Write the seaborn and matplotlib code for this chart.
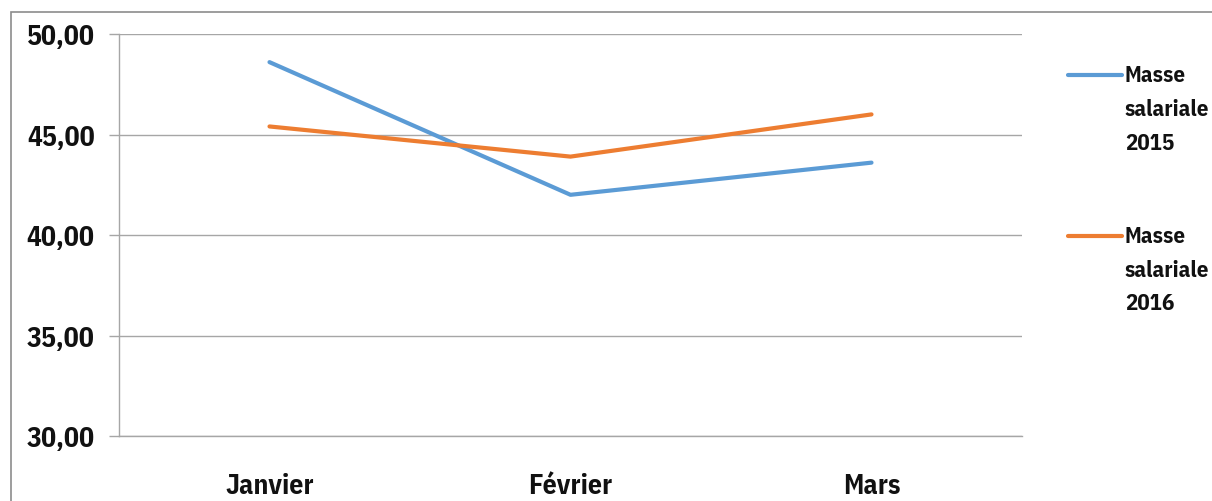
import matplotlib
matplotlib.use("Agg")
import matplotlib.pyplot as plt
from matplotlib.lines import Line2D
from matplotlib.patches import Rectangle
import seaborn as sns
import pandas as pd

months = ["Janvier", "Février", "Mars"]
masse_2015 = [48.6, 42.0, 43.6]
masse_2016 = [45.4, 43.9, 46.0]
series_labels = ["Masse\nsalariale\n2015", "Masse\nsalariale\n2016"]
y_ticks = [30, 35, 40, 45, 50]
colors = ["#5B9BD5", "#ED7D31"]

sns.set_theme(style="white")
FONT = ["IBM Plex Sans Condensed", "DejaVu Sans"]
plt.rcParams["font.family"] = FONT

df = pd.DataFrame({
    "mois": months * 2,
    "x": list(range(len(months))) * 2,
    "valeur": masse_2015 + masse_2016,
    "serie": [series_labels[0]] * 3 + [series_labels[1]] * 3,
})

fig = plt.figure(figsize=(12.12, 5.02), dpi=100)
ax = fig.add_axes([119 / 1212, 1 - 437 / 502, (1022 - 119) / 1212, (437 - 35) / 502])

sns.lineplot(data=df, x="x", y="valeur", hue="serie", palette=colors,
             linewidth=3, ax=ax, legend=False, sort=False)

ax.set_xlim(-0.5, 2.5)
ax.set_ylim(30, 50)
ax.set_yticks(y_ticks)
ax.set_yticklabels([f"{v:.2f}".replace(".", ",") for v in y_ticks],
                   fontsize=20, fontweight="bold", family=FONT, color="#111111")
ax.set_xticks(range(len(months)))
ax.set_xticklabels(months, fontsize=20, fontweight="bold", family=FONT, color="#111111")
ax.set_xticks([-0.5, 0.5, 1.5, 2.5], minor=True)
ax.tick_params(axis="x", which="major", length=0, pad=26)
ax.tick_params(axis="x", which="minor", length=9.5, width=1, color="#a6a6a6", direction="out")
ax.tick_params(axis="y", which="major", length=7.5, width=1, color="#a6a6a6", pad=10, left=True)
ax.set_xlabel("")
ax.set_ylabel("")
ax.grid(axis="y", color="#a6a6a6", linewidth=1)
ax.set_axisbelow(True)
for s in ["top", "right"]:
    ax.spines[s].set_visible(False)
for s in ["left", "bottom"]:
    ax.spines[s].set_color("#a6a6a6")
    ax.spines[s].set_linewidth(1)

# Legend drawn beside the plot
leg_y = [76, 237]
for line, lab, yy in zip(ax.get_lines(), series_labels, leg_y):
    yf = 1 - yy / 502
    fig.add_artist(Line2D([1068 / 1212, 1122 / 1212], [yf, yf], color=line.get_color(),
                          linewidth=3, transform=fig.transFigure))
    fig.text(1125 / 1212, 1 - (yy - 11) / 502, lab, ha="left", va="top",
             fontsize=16.5, fontweight="bold", family=FONT, color="#111111",
             linespacing=1.75)

# outer chart border
fig.add_artist(Rectangle((11 / 1212, -0.1), 1.2, 1 - 13 / 502 + 0.1, fill=False,
                         edgecolor="#8c8c8c", linewidth=1.2, transform=fig.transFigure))

fig.savefig("out.png", dpi=100)
